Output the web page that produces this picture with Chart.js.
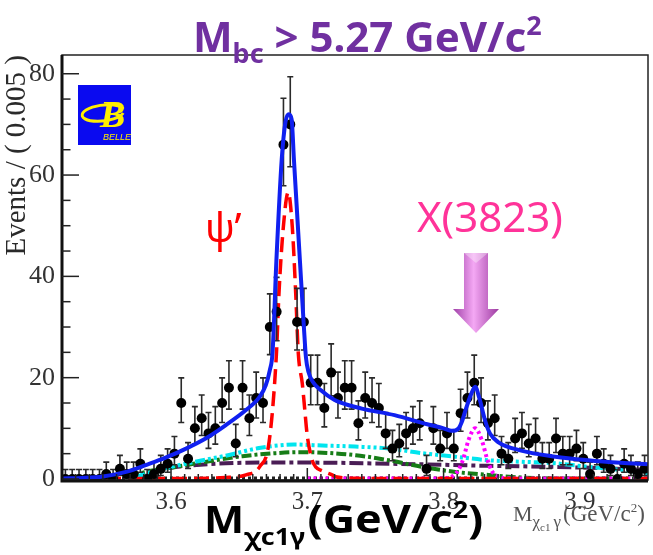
<!DOCTYPE html>
<html><head><meta charset="utf-8">
<script src="https://cdn.jsdelivr.net/npm/chart.js@4/dist/chart.umd.min.js"></script>
<style>html,body{margin:0;padding:0;background:#fff;}canvas{display:block;}</style>
</head><body>
<canvas id="c" width="653" height="555"></canvas>
<script>
// ---------- data ----------
const binLow = 3.52, binWidth = 0.005;
const counts = [0,0,0,0,0,0,1,0,2,1, 1,3,0,1,2,3,5,15,4,10, 12,9,10,15,18,7,18,12,16,15,
  30,33,66,70,31,31,19,19,14,21, 16,18,18,11,16,15,14,9,6,7, 9,10,11,2,10,6,9,6,13,16,
  19,15,11,12,5,4,8,9,7,8, 4,4,8,5,5,6,4,1,5,3, 2,0,3,2,1,2];
const xTicks = [3.6, 3.7, 3.8, 3.9];
const yTicks = [0, 20, 40, 60, 80];

const fitX = [3.520,3.535,3.550,3.567,3.582,3.596,3.611,3.626,3.640,3.655,3.665,3.6695,3.6725,3.6745,3.6773,3.6812,3.6840,3.6865,3.6885,3.6902,3.6946,3.6975,3.6990,3.7010,3.7040,3.710,3.720,3.740,3.764,3.788,3.800,3.806,3.811,3.8137,3.816,3.8203,3.8232,3.8262,3.8305,3.834,3.840,3.857,3.882,3.906,3.930,3.950];
const fitY = [0.1,0.2,0.5,1.4,2.8,4.2,6.0,8.1,10.6,13.6,16.2,18.5,21.5,25,43,63,70.5,72,71,63,43,30,24,21,19.2,17.5,15.6,13.9,12.6,10.8,10.0,9.5,10.0,11.5,13.5,16.8,18.2,16.0,11.5,9.0,7.3,5.6,4.4,3.7,3.2,2.9];

const psiX = [3.520,3.600,3.640,3.655,3.665,3.672,3.6773,3.6792,3.6824,3.686,3.689,3.6915,3.6934,3.6963,3.6975,3.700,3.7036,3.7061,3.711,3.7182,3.7207,3.735,3.760,3.950];
const psiY = [0.1,0.1,0.3,0.8,2.4,7.4,24.5,36.6,49.7,56.6,49.7,36.6,24.8,18.9,15.6,8.5,3.7,2.4,1.6,0.8,0.45,0.15,0.1,0.1];

const x3823X = [3.700,3.790,3.803,3.806,3.811,3.8147,3.8183,3.8232,3.828,3.8317,3.8354,3.8403,3.846,3.860,3.950];
const x3823Y = [0.1,0.1,0.2,0.45,1.8,4.2,7.7,10.0,7.7,4.2,1.6,0.45,0.15,0.1,0.1];

const cyanX = [3.574,3.5767,3.5914,3.6157,3.6402,3.6646,3.690,3.711,3.735,3.760,3.7841,3.8086,3.833,3.8573,3.8818,3.9062,3.9305,3.950];
const cyanY = [0.2,0.6,1.8,3.3,4.6,6.1,6.8,6.6,6.4,6.0,5.1,4.4,3.7,3.4,3.1,2.4,1.8,1.1];

const greenX = [3.570,3.579,3.6036,3.628,3.6524,3.6768,3.6939,3.711,3.7354,3.7597,3.7841,3.8086,3.833,3.857,3.880,3.950];
const greenY = [0.1,1.2,2.4,3.5,4.5,5.1,5.3,5.2,4.7,3.7,2.4,1.4,0.8,0.3,0.1,0.05];

const purpleX = [3.580,3.586,3.5938,3.6157,3.6402,3.680,3.720,3.760,3.7841,3.833,3.880,3.920,3.950];
const purpleY = [0.2,1.2,1.9,2.7,3.1,3.25,3.2,3.0,2.9,2.6,2.4,2.1,1.8];

const baseX = [3.520, 3.950];
const baseY = [0.15, 0.15];

// ---------- helpers ----------
const zip = (xs, ys) => xs.map((x, i) => ({x, y: ys[i]}));
const binCenters = counts.map((_, i) => binLow + binWidth * (i + 0.5));
const errUp = counts.map(n => Math.sqrt(n + 0.75) + 1);
const errLow = counts.map(n => n > 0 ? Math.sqrt(n - 0.25) : 0);

function curve(label, xs, ys, color, width, dash) {
  return {label, data: zip(xs, ys), showLine: true, borderColor: color, borderWidth: width,
    borderDash: dash, pointRadius: 0, cubicInterpolationMode: 'monotone', fill: false, borderCapStyle: 'butt'};
}

const errorBars = {
  id: 'errorBars',
  beforeDatasetDraw(chart, args) {
    if (chart.data.datasets[args.index].label !== 'Data') return;
    const c = chart.ctx, xs = chart.scales.x, ys = chart.scales.y;
    c.save();
    c.strokeStyle = '#2a2a2a'; c.lineWidth = 1.6;
    counts.forEach((n, i) => {
      const px = xs.getPixelForValue(binCenters[i]);
      const yt = ys.getPixelForValue(n + errUp[i]);
      const yb = ys.getPixelForValue(n - errLow[i]);
      c.beginPath(); c.moveTo(px, yt); c.lineTo(px, yb);
      c.moveTo(px - 3, yt); c.lineTo(px + 3, yt);
      if (n > 0) { c.moveTo(px - 3, yb); c.lineTo(px + 3, yb); }
      c.stroke();
    });
    c.restore();
  }
};

const frame = {
  id: 'frame',
  afterDatasetsDraw(chart) {
    const c = chart.ctx, {left, right, top, bottom} = chart.chartArea;
    const xs = chart.scales.x, ys = chart.scales.y;
    c.save();
    c.strokeStyle = '#222';
    c.lineWidth = 1.5;
    c.strokeRect(left, top, right - left, bottom - top);
    c.strokeStyle = '#111';
    c.lineWidth = 3;
    c.beginPath(); c.moveTo(left, top); c.lineTo(left, bottom + 1); c.lineTo(right, bottom + 1); c.stroke();
    c.lineWidth = 1.5;
    c.strokeStyle = '#222';
    for (let v = 0; v <= 80; v += 5) {
      const py = ys.getPixelForValue(v);
      const len = (v % 20 === 0) ? 17 : 8.5;
      c.beginPath(); c.moveTo(left, py); c.lineTo(left + len, py); c.stroke();
    }
    for (let k = 1; k < 43; k++) {
      const v = 3.52 + 0.01 * k;
      const px = xs.getPixelForValue(v);
      const major = Math.abs(Math.round(v * 10) - v * 10) < 1e-6;
      const len = major ? 12 : 6;
      c.beginPath(); c.moveTo(px, bottom); c.lineTo(px, bottom - len); c.stroke();
    }
    c.restore();
  }
};

function rich(c, parts, x, baseline, color, sx) {
  c.save();
  c.translate(x, baseline);
  c.scale(sx || 1, 1);
  c.fillStyle = color;
  let cx = 0;
  parts.forEach(p => {
    c.font = p.font;
    c.fillText(p.t, cx, (p.dy || 0));
    cx += c.measureText(p.t).width + (p.gap || 0);
  });
  c.restore();
}

const deco = {
  id: 'deco',
  afterDraw(chart) {
    const c = chart.ctx;
    c.save();
    c.textBaseline = 'alphabetic';
    // title
    rich(c, [
      {t: 'M', font: 'bold 42px "Noto Sans"'},
      {t: 'bc', font: 'bold 27px "Noto Sans"', dy: 11},
      {t: ' > 5.27 GeV/c', font: 'bold 42px "Noto Sans"'},
      {t: '2', font: 'bold 27px "Noto Sans"', dy: -17}
    ], 193, 52, '#7030a0');

    // psi' label
    c.font = '40px "Noto Sans"';
    c.fillStyle = '#ff0000';
    c.fillText('\u03c8\u2019', 205, 242);

    // X(3823) label
    c.font = '42px "Noto Sans"';
    c.fillStyle = '#ff3399';
    c.fillText('X(3823)', 417, 232);

    // arrow
    const g = c.createLinearGradient(453, 0, 499, 0);
    g.addColorStop(0, '#a040a8'); g.addColorStop(0.45, '#f4a8f4'); g.addColorStop(1, '#9c3aa0');
    c.fillStyle = g;
    c.beginPath();
    c.moveTo(464, 253); c.lineTo(488, 253); c.lineTo(488, 309); c.lineTo(499, 309);
    c.lineTo(476, 333); c.lineTo(453, 309); c.lineTo(464, 309); c.closePath();
    c.fill();
    c.fillStyle = 'rgba(255,255,255,0.35)';
    c.beginPath(); c.moveTo(464, 253); c.lineTo(488, 253); c.lineTo(476, 263); c.closePath(); c.fill();

    // Belle logo
    c.fillStyle = '#0a0af0';
    c.fillRect(78, 85, 53, 60);
    c.strokeStyle = '#ffee00'; c.lineWidth = 3;
    c.beginPath(); c.ellipse(103, 113, 21, 8, -0.12, 0.3, Math.PI * 2 - 0.2); c.stroke();
    c.fillStyle = '#ffee00';
    c.font = 'italic bold 38px "Liberation Serif"';
    c.fillText('B', 100, 127);
    c.font = 'italic 9px "Liberation Sans"';
    c.fillText('BELLE', 103, 140);

    // big x title
    rich(c, [
      {t: 'M', font: 'bold 38px "Noto Sans"'},
      {t: '\u03c7c1\u03b3', font: 'bold 24px "Noto Sans"', dy: 12, gap: 2},
      {t: '(GeV/c', font: 'bold 40px "Noto Sans"'},
      {t: '2', font: 'bold 24px "Noto Sans"', dy: -15},
      {t: ')', font: 'bold 40px "Noto Sans"'}
    ], 204, 533, '#000', 1.12);

    // small gray x label
    rich(c, [
      {t: 'M', font: '22px "Liberation Serif"'},
      {t: '\u03c7', font: '17px "Liberation Serif"', dy: 6},
      {t: 'c1', font: '11px "Liberation Serif"', dy: 10, gap: 3},
      {t: '\u03b3', font: '17px "Liberation Serif"', dy: 6, gap: 2},
      {t: '(GeV/c', font: '23px "Liberation Serif"'},
      {t: '2', font: '13px "Liberation Serif"', dy: -9},
      {t: ')', font: '23px "Liberation Serif"'}
    ], 513, 521, '#555');
    c.restore();
  }
};

new Chart(document.getElementById('c'), {
  type: 'scatter',
  data: {
    datasets: [
      curve('Total fit', fitX, fitY, '#1020f0', 4, []),
      {label: 'Data', data: zip(binCenters, counts), pointRadius: 5, pointBackgroundColor: '#000',
       pointBorderColor: '#000', pointBorderWidth: 0, showLine: false},
      curve('psi(2S)', psiX, psiY, '#ff0000', 3.5, [15, 7]),
      curve('X(3823)', x3823X, x3823Y, '#ff00ff', 4, [3, 3]),
      curve('bkg 1', cyanX, cyanY, '#00e5ee', 4, [10, 3, 3, 3, 3, 3, 3, 3]),
      curve('bkg 2', greenX, greenY, '#177d17', 4, [10, 3, 3, 3]),
      curve('bkg 3', purpleX, purpleY, '#4a1d55', 4, [14, 4, 4, 4]),
      curve('base', baseX, baseY, '#222', 3.5, [3, 3])
    ]
  },
  options: {
    responsive: false, animation: false, devicePixelRatio: 1,
    layout: {padding: {left: 0, right: 3, top: 55, bottom: 0}},
    plugins: {legend: {display: false}, tooltip: {enabled: false}},
    scales: {
      x: {
        type: 'linear', min: 3.52, max: 3.95,
        afterFit(s) { s.height = 75; },
        afterBuildTicks(s) { s.ticks = xTicks.map(v => ({value: v})); },
        grid: {display: false, drawTicks: false}, border: {display: false},
        ticks: {font: {family: 'Liberation Serif', size: 25}, color: '#333', padding: 7,
                maxRotation: 0, autoSkip: false, callback: v => v.toFixed(1)}
      },
      y: {
        min: -0.2, max: 83.7,
        afterFit(s) { s.width = 62; },
        afterBuildTicks(s) { s.ticks = yTicks.map(v => ({value: v})); },
        grid: {display: false, drawTicks: false}, border: {display: false},
        ticks: {font: {family: 'Liberation Serif', size: 26}, color: '#333', padding: 7},
        title: {display: true, text: 'Events / ( 0.005 )', align: 'end',
                font: {family: 'Liberation Serif', size: 29}, color: '#2a2a2a', padding: {top: 0, bottom: 0}}
      }
    }
  },
  plugins: [errorBars, frame, deco]
});
</script>
</body></html>
